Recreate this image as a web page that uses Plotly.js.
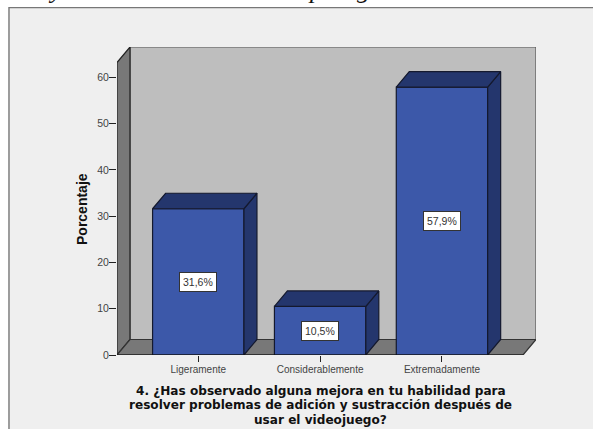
<!DOCTYPE html>
<html><head><meta charset="utf-8">
<script src="https://cdn.plot.ly/plotly-3.0.1.min.js"></script>
<style>html,body{margin:0;padding:0;background:#fff}</style></head><body>
<div id="chart" style="width:593px;height:429px"></div>
<script>
const categories = ["Ligeramente", "Considerablemente", "Extremadamente"];
const values = [31.6, 10.5, 57.9];
const labels = ["31,6%", "10,5%", "57,9%"];
const yTicks = [0, 10, 20, 30, 40, 50, 60];
const positions = [0, 1, 2];
const xTitleLines = ["4. ¿Has observado alguna mejora en tu habilidad para", "resolver problemas de adición y sustracción después de", "usar el videojuego?"];
const barW = 0.75, dx = 0.1066, dy = 3.35, xL = -0.667, xR = 2.665, yMax = 63.2;
const FRONT = "#3C58A9", DARK = "#24366D", EDGE = "#14192E", WALL = "#BEBEBE", SIDE = "#787878";
const SANS = "Liberation Sans, Arial, sans-serif";

function poly(xs, ys, fill, line) {
  return {x: xs.concat(xs[0]), y: ys.concat(ys[0]), mode: "lines", type: "scatter", fill: "toself",
    fillcolor: fill, line: {color: line, width: 1.2}, hoverinfo: "skip", showlegend: false, cliponaxis: false};
}
function pathShape(xs, ys, fill, line) {
  const d = xs.map((x, i) => (i ? "L" : "M") + x + "," + ys[i]).join(" ") + " Z";
  return {type: "path", path: d, xref: "x", yref: "y", layer: "below", fillcolor: fill, line: {color: line, width: 1.2}};
}
const traces = [];
traces.push({type: "bar", x: positions, y: values, width: barW, hoverinfo: "skip", showlegend: false,
  marker: {color: FRONT, line: {color: EDGE, width: 1.2}}});
positions.forEach((p, i) => {
  const a = p - barW / 2, b = p + barW / 2, v = values[i];
  traces.push(poly([b, b + dx, b + dx, b], [0, dy, v + dy, v], DARK, EDGE));
  traces.push(poly([a, a + dx, b + dx, b], [v, v + dy, v + dy, v], DARK, EDGE));
});

function topGlyph(text, px) {
  return {xref: "paper", yref: "paper", x: (px - 117) / 419, y: (355 - 6) / 308, yanchor: "bottom", xanchor: "center",
    showarrow: false, text: text, font: {family: "Liberation Serif, serif", size: 26, style: "italic", color: "#111"}};
}
function titleLine(text, py) {
  return {xref: "paper", yref: "paper", x: (320.5 - 117) / 419, y: (355 - py) / 308, yanchor: "middle", xanchor: "center",
    showarrow: false, text: text, font: {size: 12.1, color: "#111", family: "DejaVu Sans, sans-serif", weight: "bold"}};
}

const layout = {
  width: 593, height: 429, paper_bgcolor: "#fff", plot_bgcolor: "rgba(0,0,0,0)",
  margin: {l: 117, r: 57, t: 47, b: 74}, showlegend: false,
  font: {family: SANS, color: "#444"},
  xaxis: {range: [xL, xR + dx], tickmode: "array", tickvals: positions, ticktext: categories,
    ticks: "outside", ticklen: 6, tickwidth: 1, tickcolor: "#222", showgrid: false, zeroline: false, showline: false,
    ticklabelstandoff: -1, tickfont: {size: 10, color: "#444"}, fixedrange: true},
  yaxis: {range: [0, yMax + dy], tickmode: "array", tickvals: yTicks, ticktext: yTicks.map(String),
    ticks: "outside", ticklen: 7, tickwidth: 1, tickcolor: "#222", showgrid: false, zeroline: false, showline: false,
    ticklabelstandoff: -2, tickfont: {size: 10.5, color: "#444"}, fixedrange: true},
  shapes: [
    {type: "rect", xref: "paper", yref: "paper", layer: "below",
      x0: -0.2578, x1: 1.2, y0: -0.3, y1: 1.128, fillcolor: "#EFEFEF", line: {color: "#777", width: 1.4}},
    pathShape([xL + dx, xR + dx, xR + dx, xL + dx], [dy, dy, yMax + dy, yMax + dy], WALL, "#555"),
    pathShape([xL, xL + dx, xL + dx, xL], [0, dy, yMax + dy, yMax], SIDE, "#222"),
    pathShape([xL, xL + dx, xR + dx, xR], [0, dy, dy, 0], SIDE, "#333"),
    {type: "line", xref: "x", yref: "y", x0: xL, x1: xR, y0: 0, y1: 0, line: {color: "#111", width: 1.2}}
  ],
  annotations: labels.map((t, i) => ({x: positions[i], y: values[i] / 2, text: t, showarrow: false,
    bgcolor: "#fff", bordercolor: "#333", borderwidth: 1, borderpad: 3, font: {size: 10.5, color: "#333"}}))
    .concat([
      titleLine(xTitleLines[0], 390.5), titleLine(xTitleLines[1], 405), titleLine(xTitleLines[2], 419.5),
      {xref: "paper", yref: "paper", x: (82 - 117) / 419, y: (355 - 209) / 308, textangle: -90, showarrow: false,
        xanchor: "center", yanchor: "middle",
        text: "Porcentaje", font: {size: 14, color: "#111", family: SANS, weight: "bold"}},
      topGlyph("y", 55), topGlyph("p", 315), topGlyph("g", 363)
    ])
};
Plotly.newPlot("chart", traces, layout, {displayModeBar: false, responsive: false});
</script></body></html>
